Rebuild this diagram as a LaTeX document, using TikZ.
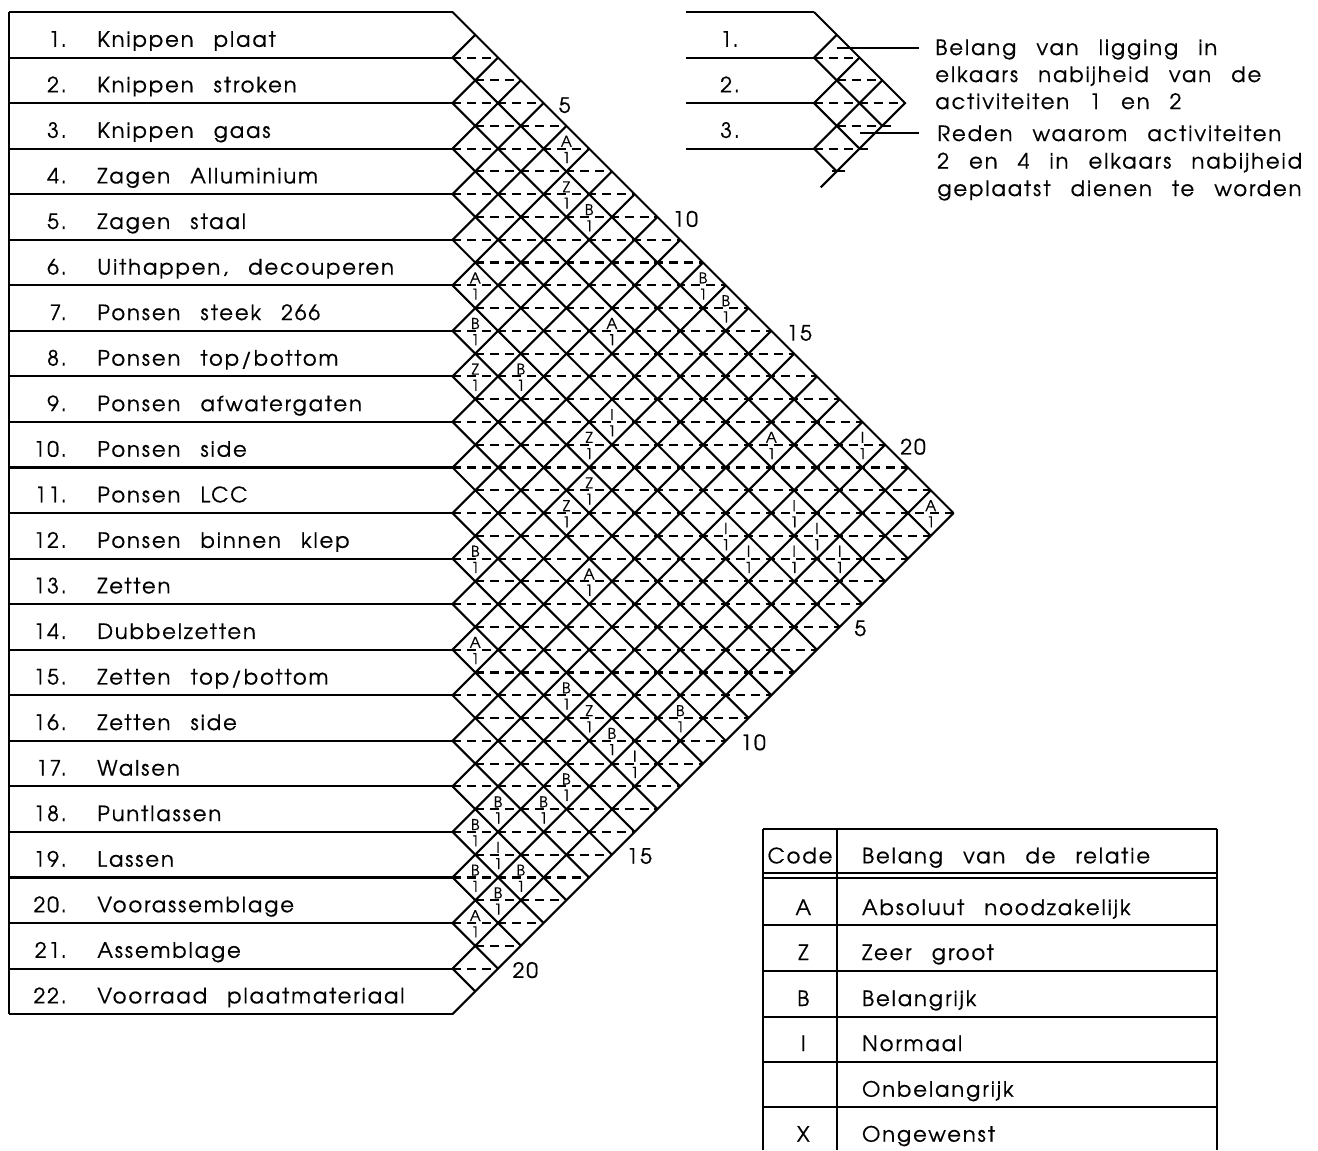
\documentclass[tikz,border=0pt]{standalone}
\usepackage{fontspec}
\newfontfamily\cadfont[LetterSpace=9,WordSpace=2.6,FakeBold=0.6]{texgyreadventor-regular.otf}

% chart geometry, in pixels of the drawing
\def\chartx{452.5}   % left vertices of the diamond lattice
\def\charty{12}      % top edge of activity 1
\def\halfrow{22.775} % half the height of an activity row
\def\keyx{814}       % left vertices of the small key lattice

\tikzset{
  rowline/.style={line width=1.2pt},
  lattice/.style={line width=1.2pt},
  midline/.style={line width=1.2pt,dash pattern=on 5.1pt off 3.4pt},
  txt/.style={font=\cadfont\fontsize{12}{14}\selectfont,inner sep=0pt},
  actnum/.style={txt,anchor=base east},
  actname/.style={txt,anchor=base west},
  codeltr/.style={font=\cadfont\fontsize{8.5}{9}\selectfont,inner sep=0pt,anchor=south},
  codenr/.style={font=\cadfont\fontsize{8.5}{9}\selectfont,inner sep=0pt,anchor=north},
}

\begin{document}
\begin{tikzpicture}[x=0.02cm,y=-0.02cm,line join=miter]
  \useasboundingbox (0,0) rectangle (1318,1150);

  % activity rows
  \draw[rowline] (9,\charty) -- (9,{\charty+44*\halfrow});
  \foreach \k in {0,...,22}
    \draw[rowline] (9,{\charty+2*\k*\halfrow}) -- (\chartx,{\charty+2*\k*\halfrow});
  \foreach \t [count=\n] in {Knippen plaat, Knippen stroken, Knippen gaas,
      Zagen Alluminium, Zagen staal, {Uithappen, decouperen}, Ponsen steek 266,
      Ponsen top/bottom, Ponsen afwatergaten, Ponsen side, Ponsen LCC,
      Ponsen binnen klep, Zetten, Dubbelzetten, Zetten top/bottom, Zetten side,
      Walsen, Puntlassen, Lassen, Voorassemblage, Assemblage,
      Voorraad plaatmateriaal}{
    \node[actnum] (num\n) at (67,{\charty+(2*\n-1)*\halfrow+12}) {\n.};
    \node[actname] (act\n) at (97,{\charty+(2*\n-1)*\halfrow+12}) {\t};
  }

  % diamond lattice
  \foreach \k in {0,...,21}
    \draw[lattice] (\chartx,{\charty+2*\k*\halfrow})
      -- ({\chartx+(22-\k)*\halfrow},{\charty+(22+\k)*\halfrow});
  \foreach \k in {1,...,22}
    \draw[lattice] (\chartx,{\charty+2*\k*\halfrow})
      -- ({\chartx+\k*\halfrow},{\charty+\k*\halfrow});
  \foreach \m in {2,...,42}{
    \pgfmathsetmacro\xl{\chartx+mod(\m,2)*\halfrow}
    \pgfmathsetmacro\xr{\chartx+min(\m,44-\m)*\halfrow}
    \draw[midline] (\xl,{\charty+\m*\halfrow}) -- (\xr,{\charty+\m*\halfrow});
  }

  % relation codes, reason 1 below the bar
  \foreach \i/\j/\c in {1/6/A, 2/7/Z, 2/8/B, 6/7/A, 7/8/B, 8/9/Z, 7/10/B,
      4/11/A, 6/13/I, 7/13/Z, 8/14/Z, 9/14/Z, 12/13/B, 10/16/A, 14/15/A,
      13/18/B, 13/19/Z, 11/21/B, 13/20/B, 13/21/I, 15/20/B, 17/19/B, 16/20/B,
      18/19/B, 18/20/I, 19/20/B, 18/21/B, 19/21/B, 20/21/A, 1/12/B, 1/13/B,
      3/17/A, 1/19/I, 1/22/A, 4/19/I, 6/18/I, 4/20/I, 6/19/I, 5/20/I, 4/21/I}{
    \node[codeltr] (code\i-\j) at ({\chartx+(\j-\i)*\halfrow},{\charty+(\i+\j-1)*\halfrow-1.5}) {\c};
    \node[codenr] (why\i-\j) at ({\chartx+(\j-\i)*\halfrow},{\charty+(\i+\j-1)*\halfrow+3}) {1};
  }

  % row counts along the outer edges
  \foreach \j in {5,10,15,20}{
    \node[txt,anchor=south west] (up\j) at ({\chartx+(\j-0.5)*\halfrow+3.5},{\charty+(\j-0.5)*\halfrow-1}) {\j};
    \node[txt,anchor=north west] (down\j) at ({\chartx+(22.5-\j)*\halfrow+3},{\charty+(21.5+\j)*\halfrow+4.5}) {\j};
  }

  % key: how to read a diamond
  \foreach \k in {0,...,3}
    \draw[rowline] (686,{\charty+2*\k*\halfrow}) -- (\keyx,{\charty+2*\k*\halfrow});
  \foreach \n in {1,2,3}
    \node[txt,anchor=base west] (keynum\n) at (720,{\charty+(2*\n-1)*\halfrow+12}) {\n.};
  \draw[lattice] (\keyx,\charty) -- ({\keyx+4*\halfrow},{\charty+4*\halfrow})
    -- ({\keyx+\halfrow-16},{\charty+7*\halfrow+16});
  \foreach \k in {1,2,3}{
    \draw[lattice] (\keyx,{\charty+2*\k*\halfrow})
      -- ({\keyx+(4-\k)*\halfrow},{\charty+(4+\k)*\halfrow});
    \draw[lattice] (\keyx,{\charty+2*\k*\halfrow})
      -- ({\keyx+\k*\halfrow},{\charty+\k*\halfrow});
  }
  \foreach \m/\a/\b in {2/0/2, 3/1/3, 4/0/4, 5/1/3.42, 6/0/2.4}
    \draw[midline] ({\keyx+\a*\halfrow},{\charty+\m*\halfrow}) -- ({\keyx+\b*\halfrow},{\charty+\m*\halfrow});
  \draw[lattice] ({\keyx+\halfrow-5},{\charty+7*\halfrow}) -- ({\keyx+\halfrow+8},{\charty+7*\halfrow});

  \coordinate (mark) at ({\keyx+\halfrow},48.3);
  \coordinate (markend) at (918.5,48.3);
  \coordinate (why) at ({\keyx+2*\halfrow},133.3);
  \coordinate (whyend) at (918.5,133.3);
  \draw[rowline] (mark) -- (markend);
  \draw[rowline] (why) -- (whyend);
  \node[txt,anchor=base west] (mark1) at (935,55) {Belang van ligging in};
  \node[txt,anchor=base west] (mark2) at (935,82) {elkaars nabijheid van de};
  \node[txt,anchor=base west] (mark3) at (935,109) {activiteiten 1 en 2};
  \node[txt,anchor=base west] (why1) at (937,141) {Reden waarom activiteiten};
  \node[txt,anchor=base west] (why2) at (937,168.5) {2 en 4 in elkaars nabijheid};
  \node[txt,anchor=base west] (why3) at (937,196) {geplaatst dienen te worden};

  % table of codes
  \foreach \y in {829.3,873.3,878.3,925,970.7,1016.7,1062.3,1107.3}
    \draw[rowline] (763.3,\y) -- (1216.7,\y);
  \foreach \x in {763.3,836.7,1216.7}
    \draw[rowline] (\x,829.3) -- (\x,1150);
  \node[txt,anchor=base] (codehead) at (800,863.3) {Code};
  \node[txt,anchor=base west] (belanghead) at (861.7,863.3) {Belang van de relatie};
  \foreach \c/\d/\y in {A/Absoluut noodzakelijk/915, Z/Zeer groot/960,
      B/Belangrijk/1006, I/Normaal/1051, /Onbelangrijk/1096.7, X/Ongewenst/1141.7}{
    \node[txt,anchor=base] (code\d) at (803.3,\y) {\c};
    \node[txt,anchor=base west] (desc\d) at (861.7,\y) {\d};
  }
\end{tikzpicture}
\end{document}
